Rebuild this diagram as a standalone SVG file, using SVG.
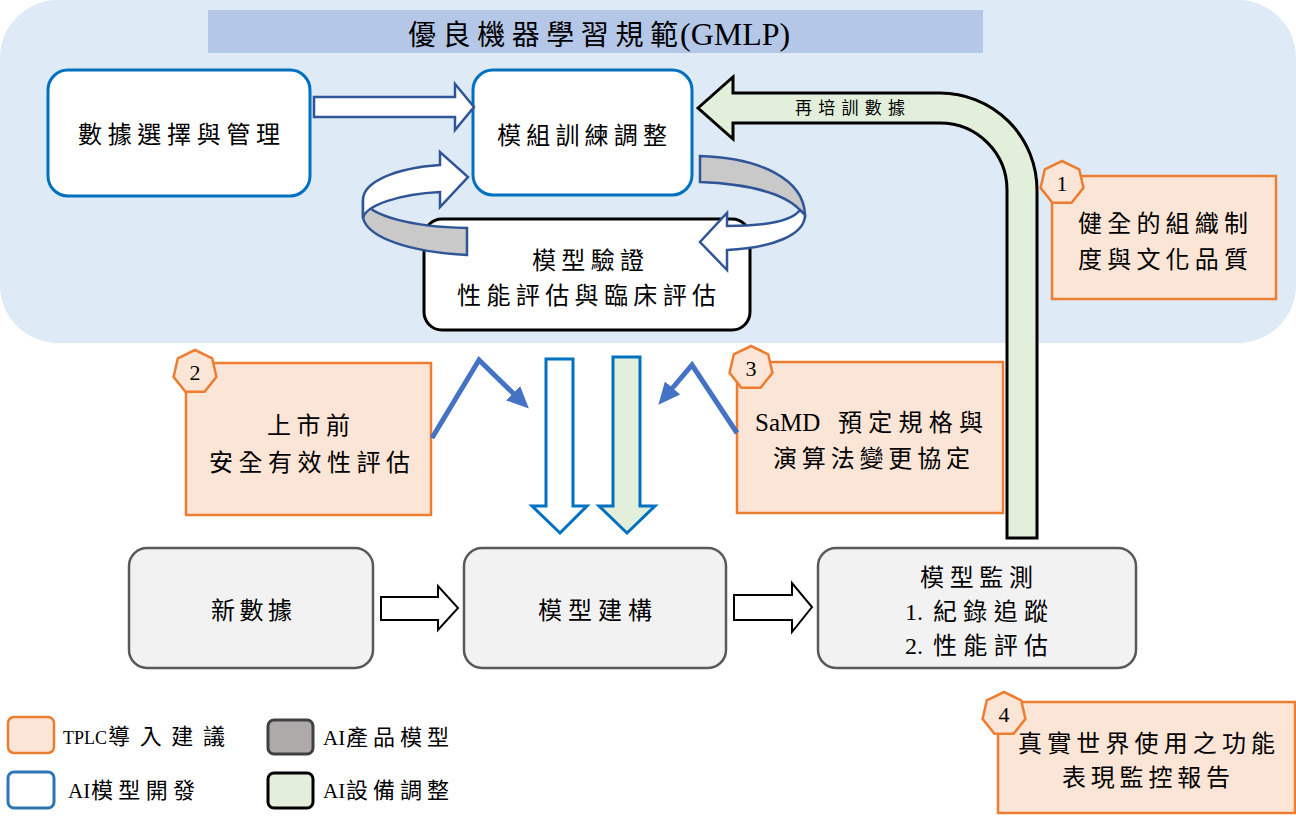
<svg xmlns="http://www.w3.org/2000/svg" width="1296" height="820" viewBox="0 0 1296 820">
<defs>
<style>
.t{font-family:"Liberation Serif","Noto Sans CJK TC",serif;fill:#000;}
.f23{font-size:24px;}
.f28{font-size:28px;}
.f17{font-size:17px;}
.f20{font-size:22px;}
.f22{font-size:22px;}
.blue{fill:#fff;stroke:#0070C0;stroke-width:3;}
.black{fill:#fff;stroke:#000;stroke-width:3;}
.gray{fill:#F2F2F2;stroke:#595959;stroke-width:2.5;}
.tplc{fill:#FBE5D6;stroke:#ED7D31;stroke-width:2.5;}
.loop{stroke:#2F5597;stroke-width:2.5;stroke-linejoin:miter;}
.zig{fill:none;stroke:#4472C4;stroke-width:5;}
.blk{fill:#fff;stroke:#000;stroke-width:2;}
</style>
<polygon id="hept" points="0,-22 17.2,-13.72 21.45,4.9 9.55,19.82 -9.55,19.82 -21.45,4.9 -17.2,-13.72"/>
<marker id="ah" markerUnits="userSpaceOnUse" markerWidth="24" markerHeight="24" refX="4" refY="12" orient="auto" viewBox="0 0 24 24">
<path d="M0,2 L22,12 L0,22 Z" fill="#4472C4"/>
</marker>
</defs>

<g id="background">
<rect x="0" y="0" width="1296" height="343" rx="58" fill="#DEEAF6"/>
</g>

<g id="title">
<rect x="208" y="10" width="775" height="43" fill="#B4C7E7"/>
<text class="t f28" y="45"><tspan x="408" textLength="270">優良機器學習規範</tspan><tspan x="680" style="font-size:32px">(GMLP)</tspan></text>
</g>

<g id="node-data">
<rect class="blue" x="48" y="70" width="262" height="126" rx="20"/>
<text class="t f23" x="78" y="143" textLength="202">數據選擇與管理</text>
</g>

<g id="node-train">
<rect class="blue" x="473" y="70" width="219" height="125" rx="20"/>
<text class="t f23" x="497" y="144" textLength="170">模組訓練調整</text>
</g>

<g id="node-validate">
<rect class="black" x="424" y="219" width="326" height="111" rx="18"/>
<text class="t f23" x="532" y="269" textLength="112">模型驗證</text>
<text class="t f23" x="457" y="304" textLength="259">性能評估與臨床評估</text>
</g>

<g id="node-newdata">
<rect class="gray" x="129" y="548" width="244" height="120" rx="18"/>
<text class="t f23" x="211" y="619" textLength="81">新數據</text>
</g>

<g id="node-build">
<rect class="gray" x="464" y="548" width="262" height="120" rx="18"/>
<text class="t f23" x="538" y="619" textLength="114">模型建構</text>
</g>

<g id="node-monitor">
<rect class="gray" x="818" y="548" width="318" height="120" rx="18"/>
<text class="t f23" x="920" y="586" textLength="113">模型監測</text>
<text class="t f23" y="620"><tspan x="905">1.</tspan><tspan x="933" textLength="115">紀錄追蹤</tspan></text>
<text class="t f23" y="654"><tspan x="905">2.</tspan><tspan x="933" textLength="115">性能評估</tspan></text>
</g>

<g id="tplc-1">
<rect class="tplc" x="1052" y="176" width="224" height="123"/>
<use href="#hept" class="tplc" transform="translate(1062,183)"/>
<text class="t f22" x="1062" y="191" text-anchor="middle">1</text>
<text class="t f23" x="1078" y="232" textLength="170">健全的組織制</text>
<text class="t f23" x="1078" y="268" textLength="170">度與文化品質</text>
</g>

<g id="tplc-2">
<rect class="tplc" x="186" y="363" width="245" height="152"/>
<use href="#hept" class="tplc" transform="translate(195,372)"/>
<text class="t f22" x="195" y="380" text-anchor="middle">2</text>
<text class="t f23" x="267" y="434" textLength="83">上市前</text>
<text class="t f23" x="209" y="471" textLength="201">安全有效性評估</text>
</g>

<g id="tplc-3">
<rect class="tplc" x="737" y="362" width="266" height="151"/>
<use href="#hept" class="tplc" transform="translate(751,368)"/>
<text class="t f22" x="751" y="376" text-anchor="middle">3</text>
<text class="t f23" y="431"><tspan x="755" style="font-size:25px">SaMD</tspan><tspan x="838" textLength="145">預定規格與</tspan></text>
<text class="t f23" x="773" y="467" textLength="197">演算法變更協定</text>
</g>

<g id="tplc-4">
<rect class="tplc" x="998" y="702" width="297" height="111"/>
<use href="#hept" class="tplc" transform="translate(1004,714)"/>
<text class="t f22" x="1004" y="722" text-anchor="middle">4</text>
<text class="t f23" x="1018" y="752" textLength="257">真實世界使用之功能</text>
<text class="t f23" x="1062" y="786" textLength="168">表現監控報告</text>
</g>

<g id="connectors">
<path class="loop" fill="#fff" d="M314,97 L455,97 L455,84 L474,107 L455,130 L455,117 L314,117 Z"/>
<path class="loop" fill="#C9C9C9" d="M363,200 C370,216 412,227 467,228 L467,255 C410,252 368,238 363,218 Z"/>
<path class="loop" fill="#fff" d="M363,218 C366,205 400,194 440,192 L440,207 L468,177 L440,152 L440,165 C395,168 363,182 363,200 Z"/>
<path class="loop" fill="#C9C9C9" d="M700,156 C762,158 804,180 805,215 L800,210 C785,194 750,184 700,182 Z"/>
<path class="loop" fill="#fff" d="M800,210 C792,221 765,226 727,226 L727,213 L700,242 L727,270 L727,250 C772,248 805,235 805,215 Z"/>
<path fill="#E2EFDA" stroke="#000" stroke-width="3" d="M698,108 L733,77 L733,93 L940,93 A97,97 0 0 1 1037,190 L1037,538 L1007,538 L1007,190 A67,67 0 0 0 940,123 L733,123 L733,139 Z"/>
<text class="t f17" x="795" y="114" textLength="110">再培訓數據</text>
<path fill="#fff" stroke="#0070C0" stroke-width="3" d="M546,359 L573,359 L573,506 L587,506 L560,533 L532,506 L546,506 Z"/>
<path fill="#E2EFDA" stroke="#0070C0" stroke-width="3" d="M613,357 L640,357 L640,506 L655,506 L627,533 L599,506 L613,506 Z"/>
<polyline class="zig" points="432,438 479,360 516,396" marker-end="url(#ah)"/>
<polyline class="zig" points="737,433 692,365 670,391" marker-end="url(#ah)"/>
<path class="blk" d="M381,597 L438,597 L438,586 L458,608 L438,630 L438,620 L381,620 Z"/>
<path class="blk" d="M734,595 L792,595 L792,583 L812,607 L792,632 L792,620 L734,620 Z"/>
</g>

<g id="legend">
<rect x="8" y="717" width="46" height="36" rx="6" fill="#FBE5D6" stroke="#ED7D31" stroke-width="2.5"/>
<text class="t f20" y="744"><tspan x="63" style="font-size:18px">TPLC</tspan><tspan x="108" textLength="117">導入建議</tspan></text>
<rect x="8" y="772" width="46" height="36" rx="6" fill="#fff" stroke="#2E75B6" stroke-width="3"/>
<text class="t f20" y="798"><tspan x="68" style="font-size:21px">AI</tspan><tspan x="91" textLength="104">模型開發</tspan></text>
<rect x="268" y="720" width="45" height="34" rx="6" fill="#AEAAAA" stroke="#404040" stroke-width="3"/>
<text class="t f20" y="745"><tspan x="323" style="font-size:21px">AI</tspan><tspan x="346" textLength="103">產品模型</tspan></text>
<rect x="268" y="773" width="45" height="35" rx="6" fill="#E2EFDA" stroke="#000" stroke-width="3"/>
<text class="t f20" y="798"><tspan x="323" style="font-size:21px">AI</tspan><tspan x="346" textLength="103">設備調整</tspan></text>
</g>
</svg>
